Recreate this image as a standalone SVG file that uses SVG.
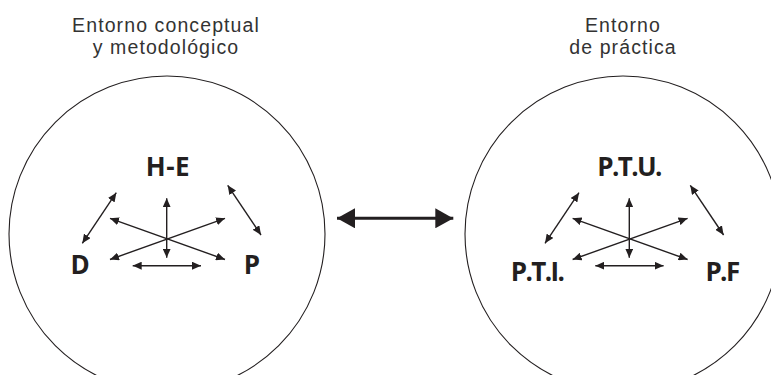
<svg xmlns="http://www.w3.org/2000/svg" width="771" height="375" viewBox="0 0 771 375">
<style>
.ring{fill:none;stroke:#231f20;stroke-width:1.1}
.title{font-family:"Liberation Sans",Arial,sans-serif;font-size:19.5px;fill:#333;text-anchor:middle;letter-spacing:1.1px}
.lbl{font-family:"Open Sans","Liberation Sans",sans-serif;font-size:26px;font-weight:bold;fill:#231f20;text-anchor:middle}
.dots{letter-spacing:-1.6px}
.ar{stroke:#231f20;stroke-width:1.4;fill:none;marker-start:url(#h);marker-end:url(#h)}
.big{stroke:#231f20;stroke-width:3;fill:none;marker-start:url(#H);marker-end:url(#H)}
</style>
<defs>
<marker id="h" viewBox="0 0 9 8" refX="9" refY="4" markerWidth="9" markerHeight="8" markerUnits="userSpaceOnUse" orient="auto-start-reverse"><path d="M0,0 L9,4 L0,8 Z" fill="#231f20"/></marker>
<marker id="H" viewBox="0 0 18 20" refX="18" refY="10" markerWidth="18" markerHeight="20" markerUnits="userSpaceOnUse" orient="auto-start-reverse"><path d="M0,0 L18,10 L0,20 Z" fill="#231f20"/></marker>
</defs>
<rect width="771" height="375" fill="#fff"/>
<g id="left">
<text class="title" x="166" y="31.5">Entorno conceptual</text>
<text class="title" x="166" y="54">y metodológico</text>
<circle class="ring" cx="167" cy="234" r="158"/>
<g id="n-HE"><text class="lbl" x="168" y="176" letter-spacing="0.5">H-E</text></g>
<g id="n-D"><text class="lbl" x="80" y="274">D</text></g>
<g id="n-P"><text class="lbl" x="252" y="274">P</text></g>
</g>
<g id="right">
<text class="title" x="623" y="31.5">Entorno</text>
<text class="title" x="623" y="54">de práctica</text>
<circle class="ring" cx="623" cy="234" r="158"/>
<g id="n-PTU"><text class="lbl dots" x="629" y="176">P.T.U.</text></g>
<g id="n-PTI"><text class="lbl dots" x="537" y="281">P.T.I.</text></g>
<g id="n-PF"><text class="lbl dots" x="722" y="281">P.F</text></g>
</g>
<g id="connectors">
<line class="ar" x1="116.3" y1="192.7" x2="82.3" y2="243.3"/>
<line class="ar" x1="227.7" y1="185.3" x2="261" y2="235"/>
<line class="ar" x1="166.7" y1="198.3" x2="166.7" y2="257.7"/>
<line class="ar" x1="110" y1="218.3" x2="225" y2="259.5"/>
<line class="ar" x1="110" y1="259.5" x2="225" y2="218.3"/>
<line class="ar" x1="132.7" y1="265.7" x2="201" y2="265.7"/>
<line class="ar" x1="579" y1="192.7" x2="545" y2="243.3"/>
<line class="ar" x1="690.3" y1="185.3" x2="723.6" y2="235"/>
<line class="ar" x1="629.3" y1="198.3" x2="629.3" y2="257.7"/>
<line class="ar" x1="572.6" y1="218.3" x2="687.6" y2="259.5"/>
<line class="ar" x1="572.6" y1="259.5" x2="687.6" y2="218.3"/>
<line class="ar" x1="595.3" y1="265.7" x2="663.6" y2="265.7"/>
<line class="big" x1="337" y1="218.3" x2="453.3" y2="218.3"/>
</g>
</svg>
